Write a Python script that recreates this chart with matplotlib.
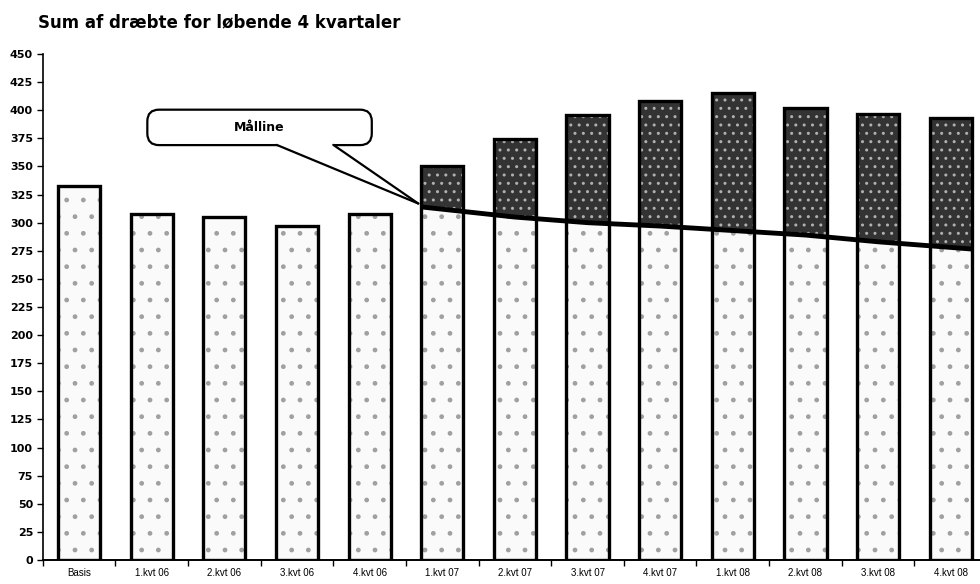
import matplotlib
matplotlib.use("Agg")
import matplotlib.pyplot as plt
from matplotlib.patches import FancyBboxPatch, Polygon
import numpy as np

categories = ["Basis", "1.kvt 06", "2.kvt 06", "3.kvt 06", "4.kvt 06",
              "1.kvt 07", "2.kvt 07", "3.kvt 07", "4.kvt 07",
              "1.kvt 08", "2.kvt 08", "3.kvt 08", "4.kvt 08"]
totals = [333, 308, 305, 297, 308, 350, 374, 396, 408, 415, 402, 397, 393]
target_cats = ["1.kvt 07", "2.kvt 07", "3.kvt 07", "4.kvt 07",
               "1.kvt 08", "2.kvt 08", "3.kvt 08", "4.kvt 08"]
target = [312, 305, 300, 297, 293, 289, 283, 278]
yticks = list(range(0, 451, 25))
title = "Sum af dræbte for løbende 4 kvartaler"
callout = "Målline"

plt.rcParams['font.family'] = ['Liberation Sans', 'DejaVu Sans']

fig = plt.figure(figsize=(9.8, 5.84), dpi=100)
ax = fig.add_axes([0.0436, 0.0411, 0.9636, 0.8664])

x = np.arange(len(categories))
tmap = dict(zip(target_cats, target))
lower = [min(t, tmap[c]) if c in tmap else t for c, t in zip(categories, totals)]
upper = [max(0, t - tmap[c]) if c in tmap else 0 for c, t in zip(categories, totals)]
w = 0.58

ax.bar(x, lower, width=w, color='#fafafa', edgecolor='#a0a0a0', hatch='.', linewidth=0, zorder=2)
ax.bar(x, upper, bottom=lower, width=w, color='#333333', edgecolor='#b0b0b0', hatch='..', linewidth=0, zorder=2)
ax.bar(x, totals, width=w, fill=False, edgecolor='black', linewidth=2.4, zorder=3)

# target line (Målline) across the bars
tx = np.array([categories.index(c) for c in target_cats], dtype=float)
ty = np.array(target, dtype=float)
s0 = (ty[1] - ty[0]) / (tx[1] - tx[0])
s1 = (ty[-1] - ty[-2]) / (tx[-1] - tx[-2])
lx = np.concatenate([[tx[0] - w / 2], tx, [tx[-1] + w / 2]])
ly = np.concatenate([[ty[0] - s0 * w / 2], ty, [ty[-1] + s1 * w / 2]])
ax.plot(lx, ly, color='black', linewidth=3.5, zorder=4, solid_capstyle='butt')

# callout box "Målline" with a pointer to the start of the line
aspect = 64.65
bx, by, bw, bh = 0.94, 369, 3.09, 31.5
box = FancyBboxPatch((bx, by), bw, bh,
                     boxstyle='round,pad=0,rounding_size=0.16',
                     mutation_aspect=aspect, fc='white', ec='black', lw=1.6,
                     zorder=6, clip_on=False)
ax.add_patch(box)
tip = (lx[0] - 0.04, ly[0] + 3)
bl, br = 2.72, 3.50
tailfill = Polygon([(bl, by + 0.5), (bl, by + 3), (br, by + 3), (br, by + 0.5), tip],
                   closed=True, fc='white', ec='none', zorder=7)
ax.add_patch(tailfill)
ax.plot([bl, tip[0]], [by + 0.2, tip[1]], color='black', lw=1.6, zorder=8,
        solid_capstyle='round')
ax.plot([br, tip[0]], [by + 0.2, tip[1]], color='black', lw=1.6, zorder=8,
        solid_capstyle='round')
ax.text(bx + bw / 2, by + bh / 2, callout, ha='center', va='center', fontsize=9,
        fontweight='bold', family=['DejaVu Sans'], zorder=9)

ax.set_ylim(0, 450)
ax.set_xlim(-0.5, 12.5)
ax.set_yticks(yticks)
ax.set_yticklabels([str(v) for v in yticks], fontsize=8, fontweight='bold',
                   family=['DejaVu Sans'])
ax.set_xticks(x)
ax.set_xticklabels(categories, fontsize=7)
ax.tick_params(axis='x', length=0, pad=6)
ax.set_xticks(np.arange(len(categories) + 1) - 0.5, minor=True)
ax.tick_params(axis='x', which='minor', length=4, direction='out', width=1)
ax.tick_params(axis='y', length=4, direction='out', width=1, pad=3)
for sp in ['top', 'right']:
    ax.spines[sp].set_visible(False)
ax.spines['left'].set_linewidth(1.2)
ax.spines['bottom'].set_linewidth(1.4)

fig.text(0.039, 0.962, title, fontsize=12, fontweight='bold', ha='left', va='center',
         family=['DejaVu Sans'])

fig.savefig("out.png", dpi=100)
